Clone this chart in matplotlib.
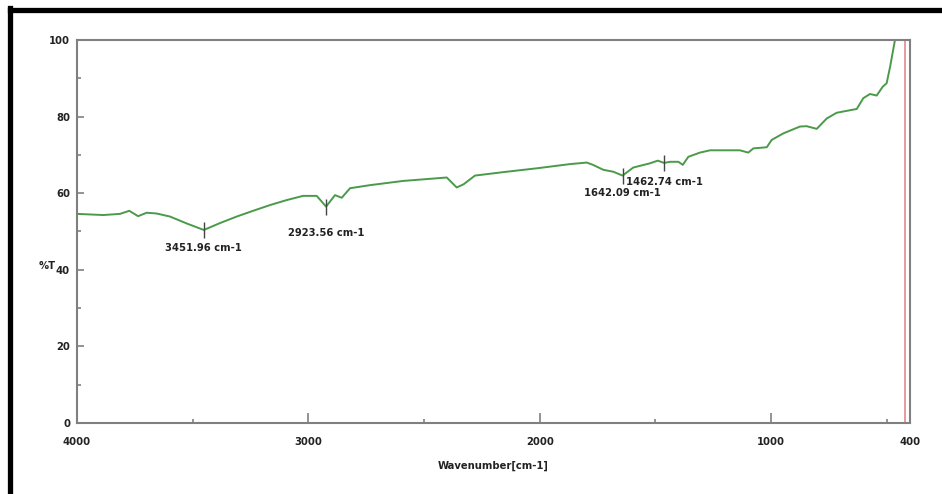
import numpy as np
import matplotlib.pyplot as plt
from matplotlib.lines import Line2D
from matplotlib.ticker import MultipleLocator, FixedLocator

plt.rcParams['font.family'] = ['DejaVu Sans']
plt.rcParams['font.stretch'] = 'condensed'

# IR spectrum, wavenumber (cm-1) vs transmittance (%T)
wavenumber = [4000, 3886, 3814, 3774, 3736, 3699, 3656, 3598, 3526, 3451.96,
              3382, 3310, 3239, 3166, 3094, 3023, 2964, 2923.56, 2885, 2856,
              2820, 2734, 2591, 2402, 2359, 2330, 2280, 2158, 2013, 1869,
              1797, 1770, 1725, 1682, 1642.09, 1596, 1524, 1490, 1462.74, 1437,
              1401, 1382, 1358, 1308, 1264, 1135, 1099, 1077, 1019, 998,
              948, 876, 847, 803, 760, 717, 630, 602, 573, 544,
              518, 501, 486, 465]
transmittance = [54.6, 54.3, 54.6, 55.4, 54.0, 54.9, 54.7, 53.9, 52.1, 50.4,
                 52.2, 53.9, 55.4, 56.9, 58.2, 59.3, 59.3, 56.5, 59.5, 58.8,
                 61.3, 62.1, 63.2, 64.1, 61.5, 62.3, 64.6, 65.5, 66.5, 67.6,
                 68.0, 67.4, 66.1, 65.6, 64.6, 66.7, 67.8, 68.5, 67.9, 68.2,
                 68.2, 67.4, 69.5, 70.6, 71.2, 71.2, 70.6, 71.7, 72.0, 73.9,
                 75.6, 77.4, 77.5, 76.8, 79.5, 81.0, 82.0, 84.8, 85.9, 85.5,
                 87.8, 88.7, 93.0, 100.0]

# picked peaks: wavenumber, label offset below the point (px)
peak_wn = [3451.96, 2923.56, 1642.09, 1462.74]
peak_dy = [18, 26, 17, 19]
cursor_wn = 420

FS = 8
TXT = '#222222'

fig = plt.figure(figsize=(9.42, 4.94), dpi=100)
ax = fig.add_axes([77 / 942, 1 - 423 / 494, 833 / 942, 383 / 494])

ax.plot(wavenumber, transmittance, color='#4a9a4a', lw=1.4)
ax.axvline(cursor_wn, color='#e08a8a', lw=1.2)

for wn, dy in zip(peak_wn, peak_dy):
    t = transmittance[wavenumber.index(wn)]
    ax.plot([wn], [t], marker='|', ms=12, mew=1.0, color='#444444')
    ax.annotate(f'{wn:.2f} cm-1', (wn, t), xytext=(0, -dy * 0.72),
                textcoords='offset points', ha='center', va='center',
                fontsize=FS, fontweight='bold', color=TXT)

ax.set_xlim(4000, 400)
ax.set_ylim(0, 100)
ax.xaxis.set_major_locator(FixedLocator([4000, 3000, 2000, 1000, 400]))
ax.xaxis.set_minor_locator(FixedLocator([3500, 2500, 1500, 500]))
ax.yaxis.set_major_locator(MultipleLocator(20))
ax.yaxis.set_minor_locator(MultipleLocator(10))

for s in ax.spines.values():
    s.set_color('#808080')
    s.set_linewidth(1.5)
ax.tick_params(which='both', direction='in', color='#808080', width=1.2,
               labelsize=FS, labelcolor=TXT)
ax.tick_params(axis='x', which='major', length=7, pad=10)
ax.tick_params(axis='y', which='major', length=5, pad=5)
ax.tick_params(which='minor', length=3)
for lab in ax.get_xticklabels() + ax.get_yticklabels():
    lab.set_fontweight('bold')

ax.set_xlabel('Wavenumber[cm-1]', fontsize=FS, fontweight='bold',
              color=TXT, labelpad=10)
fig.text(47 / 942, 1 - 266 / 494, '%T', fontsize=FS, fontweight='bold',
         color=TXT, ha='center', va='center')

# black frame along top and left edges
fig.add_artist(Line2D([10 / 942, 1], [1 - 10.5 / 494] * 2, color='black',
                      lw=3.8, transform=fig.transFigure))
fig.add_artist(Line2D([10.2 / 942] * 2, [0, 1 - 8.5 / 494], color='black',
                      lw=3.8, transform=fig.transFigure))

fig.savefig('out.png', dpi=100)
